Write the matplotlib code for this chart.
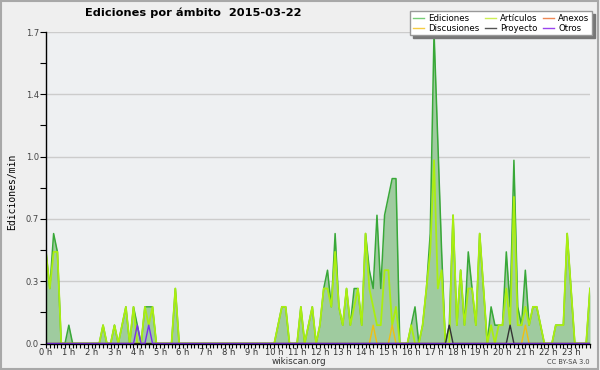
import numpy as np
import matplotlib.pyplot as plt
from matplotlib.lines import Line2D
from matplotlib.patches import Rectangle

# edits per 10-minute slot, 0h00 .. 23h50 (12 slots per row = 2 hours)
ediciones = [
    5, 3, 6, 5, 0, 0, 1, 0, 0, 0, 0, 0,
    0, 0, 0, 1, 0, 0, 1, 0, 1, 2, 0, 2,
    1, 0, 2, 2, 2, 0, 0, 0, 0, 0, 3, 0,
    0, 0, 0, 0, 0, 0, 0, 0, 0, 0, 0, 0,
    0, 0, 0, 0, 0, 0, 0, 0, 0, 0, 0, 0,
    0, 1, 2, 2, 0, 0, 0, 2, 0, 1, 2, 0,
    1, 3, 4, 2, 6, 2, 1, 3, 1, 3, 3, 1,
    6, 4, 3, 7, 3, 7, 8, 9, 9, 0, 0, 0,
    1, 2, 0, 1, 3, 6, 17, 11, 5, 0, 1, 7,
    1, 4, 1, 5, 3, 1, 6, 3, 0, 2, 1, 1,
    1, 5, 2, 10, 2, 1, 4, 1, 2, 2, 1, 0,
    0, 0, 1, 1, 1, 6, 3, 0, 0, 0, 0, 3,
]
articulos = [
    5, 3, 5, 5, 0, 0, 0, 0, 0, 0, 0, 0,
    0, 0, 0, 1, 0, 0, 1, 0, 1, 2, 0, 2,
    0, 0, 2, 1, 2, 0, 0, 0, 0, 0, 3, 0,
    0, 0, 0, 0, 0, 0, 0, 0, 0, 0, 0, 0,
    0, 0, 0, 0, 0, 0, 0, 0, 0, 0, 0, 0,
    0, 1, 2, 2, 0, 0, 0, 2, 0, 1, 2, 0,
    1, 3, 3, 2, 5, 2, 1, 3, 1, 2, 3, 1,
    6, 3, 2, 1, 1, 4, 4, 1, 2, 0, 0, 0,
    1, 0, 0, 1, 3, 5, 10, 3, 4, 0, 0, 7,
    1, 4, 1, 3, 3, 1, 6, 3, 0, 1, 0, 1,
    1, 3, 1, 8, 1, 1, 2, 1, 2, 2, 1, 0,
    0, 0, 1, 1, 1, 6, 3, 0, 0, 0, 0, 3,
]
# sparse namespaces: {slot index: edits}
discusiones = {86: 1, 91: 1, 126: 1}
proyecto = {106: 1, 122: 1}
otros = {24: 1, 27: 1}
anexos = {}

hour_labels = [f"{h} h" for h in range(24)]
y_ticks = [0, 0.34, 0.68, 1.02, 1.36, 1.7]
y_labels = ["0.0", "0.3", "0.7", "1.0", "1.4", "1.7"]


def to_rate(sparse):
    counts = np.zeros(144)
    for k, v in sparse.items():
        counts[k] = v
    return counts / 10


minutes = np.arange(144) * 10

fig = plt.figure(figsize=(6, 3.7), dpi=100, facecolor="#efefef")
fig.patches.append(Rectangle((0.001, 0.003), 0.995, 0.994, transform=fig.transFigure,
                             fill=False, edgecolor="#a8a8a8", lw=1.5))
ax = fig.add_axes([46 / 600, 1 - 343.5 / 370, 544 / 600, 311.5 / 370])
ax.set_facecolor("#eef0f2")

e = np.array(ediciones) / 10
ax.fill_between(minutes, e, color="#9fcb9f", lw=0, zorder=2)
ax.plot(minutes, e, color="#38a838", lw=1.1, zorder=3)
ax.plot(minutes, np.array(articulos) / 10, color="#aaee10", lw=1.3, zorder=4)
ax.plot(minutes, to_rate(anexos), color="#ee7744", lw=1, zorder=4)
ax.plot(minutes, to_rate(discusiones), color="#f0c010", lw=1, zorder=4)
ax.plot(minutes, to_rate(proyecto), color="#333333", lw=1, zorder=4)
ax.plot(minutes, to_rate(otros), color="#7a2ef0", lw=1, zorder=4)

ax.set_xlim(0, 1430)
ax.set_ylim(0, 1.7)
ax.set_xticks(np.arange(24) * 60)
ax.set_xticklabels(hour_labels)
ax.set_xticks(np.arange(0, 1440, 10), minor=True)
ax.set_yticks(y_ticks)
ax.set_yticklabels(y_labels)
ax.set_yticks([0.17, 0.51, 0.85, 1.19, 1.53], minor=True)
ax.tick_params(axis="x", which="both", length=3, width=0.8, labelsize=6, pad=0.5,
               labelcolor="#333333")
ax.tick_params(axis="y", which="both", length=4, width=0.8, labelsize=6, pad=1,
               labelcolor="#444444")
ax.grid(axis="y", color="#cccccc", lw=1)
ax.set_axisbelow(True)
for side in ["top", "right"]:
    ax.spines[side].set_visible(False)
for side in ["left", "bottom"]:
    ax.spines[side].set_zorder(10)
    ax.spines[side].set_linewidth(1)

fig.text(85 / 600, 1 - 13 / 370, "Ediciones por ámbito  2015-03-22", fontsize=8.2,
         fontweight="bold", va="center", ha="left")
fig.text(12 / 600, 1 - 192 / 370, "Ediciones/min", rotation=90, family="DejaVu Sans Mono",
         fontsize=7, va="center", ha="center")
fig.text(299 / 600, 1 - 362 / 370, "wikiscan.org", fontsize=6.3, ha="center", va="center",
         color="#333333")
fig.text(590 / 600, 1 - 362 / 370, "CC BY-SA 3.0", fontsize=4.8, ha="right", va="center",
         color="#444444")

names = ["Ediciones", "Discusiones", "Artículos", "Proyecto", "Anexos", "Otros"]
colors = ["#77cc77", "#f5cc44", "#ccee55", "#555555", "#ee8855", "#9944ee"]
handles = [Line2D([], [], color=c, lw=1) for c in colors]
leg = ax.legend(handles, names, ncol=3, loc="upper right",
                bbox_to_anchor=(592 / 600, 1 - 11 / 370), bbox_transform=fig.transFigure,
                fontsize=6.2, fancybox=False, shadow={"color": "#777777", "alpha": 1},
                edgecolor="#999999", facecolor="white", framealpha=1, handlelength=1.3,
                handletextpad=0.5, columnspacing=0.6, labelspacing=0.15, borderpad=0.3,
                borderaxespad=0)
leg.set_zorder(20)

fig.savefig("out.png", dpi=100, facecolor=fig.get_facecolor())
